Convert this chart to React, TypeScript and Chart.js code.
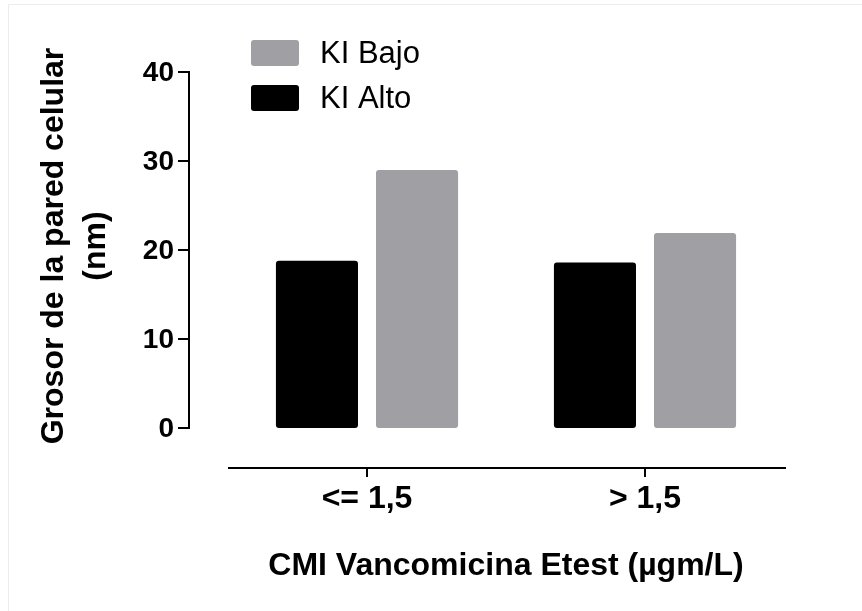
import { useEffect, useRef } from "react";
import { Chart, registerables } from "chart.js";

Chart.register(...registerables);

// Categories on the x axis (Etest MIC groups)
const categories = ["<= 1,5", "> 1,5"];
// Cell wall thickness (nm) per series
const kiAlto = [18.8, 18.6];
const kiBajo = [29.0, 21.9];
const seriesNames = ["KI Alto", "KI Bajo"];
const seriesColors = ["#000000", "#a09fa4"];
// Y axis ticks
const yTicks = [0, 10, 20, 30, 40];
const yTitleLines = ["Grosor de la pared celular", "(nm)"];
const xTitle = "CMI Vancomicina Etest (µgm/L)";

const FONT = "'Liberation Sans', Arial, Helvetica, sans-serif";

const prismAxes = {
  id: "prismAxes",
  afterDraw(chart: any) {
    const { ctx, chartArea, scales } = chart;
    const xs = scales.x;
    const ys = scales.y;
    ctx.save();

    // faint outer frame
    ctx.strokeStyle = "#ececec";
    ctx.lineWidth = 1;
    ctx.beginPath();
    ctx.moveTo(8.5, 611);
    ctx.lineTo(8.5, 4.5);
    ctx.lineTo(862, 4.5);
    ctx.stroke();

    ctx.strokeStyle = "#000";
    ctx.fillStyle = "#000";
    ctx.lineWidth = 2;

    // Y axis (offset to the left of the plot area)
    const axisX = chartArea.left - 39;
    const yTop = ys.getPixelForValue(yTicks[yTicks.length - 1]);
    const yBot = ys.getPixelForValue(yTicks[0]);
    ctx.beginPath();
    ctx.moveTo(axisX, yTop - 1);
    ctx.lineTo(axisX, yBot + 1);
    ctx.stroke();
    ctx.font = `bold 28px ${FONT}`;
    ctx.textAlign = "right";
    ctx.textBaseline = "middle";
    yTicks.forEach((v) => {
      const py = ys.getPixelForValue(v);
      ctx.beginPath();
      ctx.moveTo(axisX - 11, py);
      ctx.lineTo(axisX, py);
      ctx.stroke();
      ctx.fillText(String(v), axisX - 15, py + 1);
    });

    // Y title (two lines, rotated)
    ctx.save();
    ctx.font = `bold 32px ${FONT}`;
    ctx.textAlign = "center";
    ctx.textBaseline = "middle";
    const titleY = (chartArea.top + chartArea.bottom) / 2 - 4;
    [54, 96].forEach((tx, i) => {
      ctx.save();
      ctx.translate(tx, titleY);
      ctx.rotate(-Math.PI / 2);
      ctx.fillText(yTitleLines[i], 0, 0);
      ctx.restore();
    });
    ctx.restore();

    // X axis (offset below the plot area)
    const axisY = yBot + 40;
    ctx.beginPath();
    ctx.moveTo(chartArea.left, axisY);
    ctx.lineTo(chartArea.right + 2, axisY);
    ctx.stroke();
    ctx.font = `bold 32px ${FONT}`;
    ctx.textAlign = "center";
    ctx.textBaseline = "middle";
    categories.forEach((c, i) => {
      const px = xs.getPixelForValue(i);
      ctx.beginPath();
      ctx.moveTo(px, axisY);
      ctx.lineTo(px, axisY + 9);
      ctx.stroke();
      ctx.fillText(c, px, axisY + 31);
    });

    // X title
    ctx.font = `bold 32px ${FONT}`;
    ctx.fillText(xTitle, (chartArea.left + chartArea.right) / 2, 566);

    // Legend (listed in reverse dataset order)
    const ds = [...chart.data.datasets].reverse();
    ctx.font = `31px ${FONT}`;
    ctx.textAlign = "left";
    ctx.textBaseline = "middle";
    ds.forEach((d: any, i: number) => {
      const top = 40 + i * 45;
      ctx.fillStyle = d.backgroundColor;
      ctx.beginPath();
      (ctx as any).roundRect(251, top, 48, 26, 3);
      ctx.fill();
      ctx.fillStyle = "#000";
      ctx.fillText(d.label, 320, top + 14);
    });

    ctx.restore();
  },
};

export default function App() {
  const canvasRef = useRef<HTMLCanvasElement | null>(null);

  useEffect(() => {
    const canvas = canvasRef.current;
    if (!canvas) return;
    const chart = new Chart(canvas, {
      type: "bar",
      data: {
        labels: categories,
        datasets: [
          {
            label: seriesNames[0],
            data: kiAlto,
            backgroundColor: seriesColors[0],
            borderRadius: 3,
            borderSkipped: false,
          },
          {
            label: seriesNames[1],
            data: kiBajo,
            backgroundColor: seriesColors[1],
            borderRadius: 3,
            borderSkipped: false,
          },
        ],
      },
      options: {
        responsive: false,
        animation: false,
        devicePixelRatio: 1,
        layout: { padding: { left: 228, right: 78, top: 72, bottom: 183 } },
        datasets: { bar: { categoryPercentage: 0.72, barPercentage: 0.82 } },
        plugins: {
          legend: { display: false },
          tooltip: { enabled: false },
          title: { display: false },
        },
        scales: {
          x: { type: "category", display: false, offset: true },
          y: { type: "linear", display: false, min: 0, max: 40 },
        },
      },
      plugins: [prismAxes],
    });
    return () => chart.destroy();
  }, []);

  return (
    <div style={{ position: "absolute", left: 0, top: 0, width: 862, height: 611, background: "#fff" }}>
      <canvas ref={canvasRef} width={862} height={611} style={{ display: "block" }} />
    </div>
  );
}
